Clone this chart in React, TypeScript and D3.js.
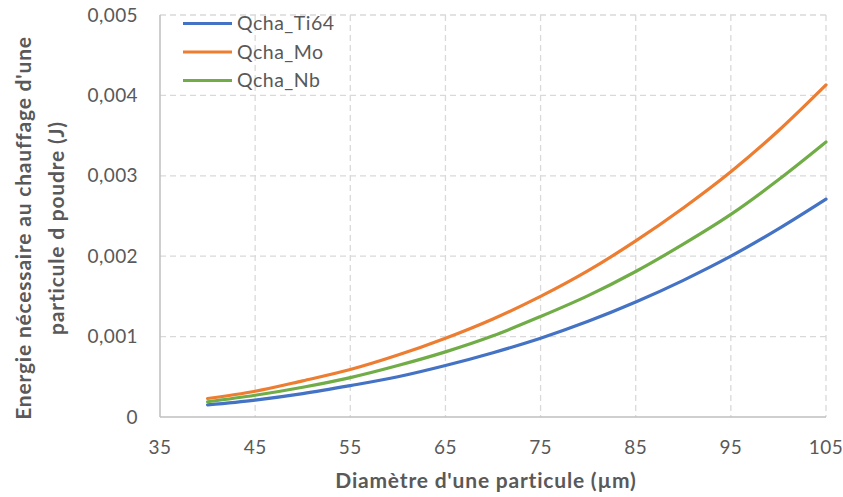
import React from "react";
import * as d3 from "d3";

const diameters = [40, 45, 50, 55, 60, 65, 70, 75, 80, 85, 90, 95, 100, 105];
const qTi64 = [0.00015, 0.00021, 0.00029, 0.00039, 0.0005, 0.00064, 0.0008, 0.00098, 0.00119, 0.00143, 0.0017, 0.002, 0.00234, 0.00271];
const qMo = [0.00023, 0.00032, 0.00045, 0.00059, 0.00077, 0.00098, 0.00122, 0.0015, 0.00182, 0.00219, 0.0026, 0.00305, 0.00356, 0.00413];
const qNb = [0.00019, 0.00027, 0.00037, 0.00049, 0.00064, 0.00081, 0.00101, 0.00125, 0.00151, 0.00181, 0.00215, 0.00252, 0.00295, 0.00342];
const seriesNames = ["Qcha_Ti64", "Qcha_Mo", "Qcha_Nb"];
const seriesColors = ["#4472C4", "#ED7D31", "#70AD47"];
const xTicks = [35, 45, 55, 65, 75, 85, 95, 105];
const yTicks = [0, 0.001, 0.002, 0.003, 0.004, 0.005];
const yTickLabels = ["0", "0,001", "0,002", "0,003", "0,004", "0,005"];

const W = 843, H = 497;
const left = 160, right = 826, top = 15, bottom = 417;
const font = "Lato, 'Open Sans', sans-serif";
const textColor = "#595959";

export default function App() {
  const x = d3.scaleLinear().domain([35, 105]).range([left, right]);
  const y = d3.scaleLinear().domain([0, 0.005]).range([bottom, top]);
  const all = [qTi64, qMo, qNb];
  const line = d3
    .line<[number, number]>()
    .x((d) => x(d[0]))
    .y((d) => y(d[1]))
    .curve(d3.curveCatmullRom.alpha(0.5));

  return (
    <svg width={W} height={H} style={{ position: "absolute", left: 0, top: 0, background: "#fff" }}>
      <rect x={0} y={0} width={W} height={H} fill="#fff" />
      {/* grid */}
      {yTicks.slice(1).map((t) => (
        <line key={"gy" + t} x1={left} x2={right} y1={y(t)} y2={y(t)} stroke="#d9d9d9" strokeWidth={1.3} strokeDasharray="6,4" />
      ))}
      {xTicks.slice(1).map((t) => (
        <line key={"gx" + t} x1={x(t)} x2={x(t)} y1={top} y2={bottom} stroke="#d9d9d9" strokeWidth={1.3} strokeDasharray="6,4" />
      ))}
      {/* axes */}
      <line x1={left} x2={left} y1={top} y2={bottom} stroke="#bfbfbf" strokeWidth={1.5} />
      <line x1={left} x2={right} y1={bottom} y2={bottom} stroke="#bfbfbf" strokeWidth={1.5} />
      {/* y tick labels */}
      {yTicks.map((t, i) => (
        <text key={"yl" + t} x={138} y={y(t)} dy="0.35em" textAnchor="end" fontFamily={font} fontSize={19} letterSpacing={0.4} fill={textColor}>
          {yTickLabels[i]}
        </text>
      ))}
      {/* x tick labels */}
      {xTicks.map((t) => (
        <text key={"xl" + t} x={x(t)} y={447} dy="0.35em" textAnchor="middle" fontFamily={font} fontSize={19} letterSpacing={0.4} fill={textColor}>
          {t}
        </text>
      ))}
      {/* series */}
      {all.map((vals, i) => (
        <path
          key={seriesNames[i]}
          d={line(diameters.map((d, j) => [d, vals[j]] as [number, number])) || ""}
          fill="none"
          stroke={seriesColors[i]}
          strokeWidth={3.2}
          strokeLinecap="round"
        />
      ))}
      {/* legend */}
      {seriesNames.map((n, i) => (
        <g key={"lg" + n} transform={`translate(0, ${23.5 + i * 28.5})`}>
          <line x1={183} x2={232} y1={0} y2={0} stroke={seriesColors[i]} strokeWidth={3.2} />
          <text x={237} y={0} dy="0.35em" fontFamily={font} fontSize={19.5} letterSpacing={0.5} fill={textColor}>
            {n}
          </text>
        </g>
      ))}
      {/* axis titles */}
      <text x={486} y={481} dy="0.35em" textAnchor="middle" fontFamily={font} fontWeight="bold" fontSize={21} letterSpacing={0.8} fill={textColor}>
        Diamètre d'une particule (µm)
      </text>
      <text transform="translate(24,228) rotate(-90)" dy="0.35em" textAnchor="middle" fontFamily={font} fontWeight="bold" fontSize={21} letterSpacing={0.8} fill={textColor}>
        Energie nécessaire au chauffage d'une
      </text>
      <text transform="translate(57,228) rotate(-90)" dy="0.35em" textAnchor="middle" fontFamily={font} fontWeight="bold" fontSize={21} letterSpacing={0.8} fill={textColor}>
        particule d poudre (J)
      </text>
    </svg>
  );
}
